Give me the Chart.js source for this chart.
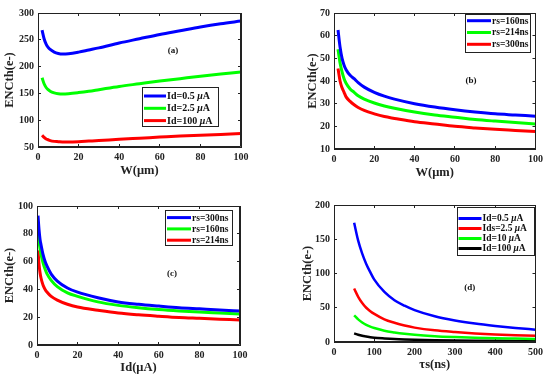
<!DOCTYPE html>
<html>
<head>
<meta charset="utf-8">
<script src="https://cdn.jsdelivr.net/npm/chart.js@4.4.1/dist/chart.umd.min.js"></script>
<style>
  html, body { margin: 0; padding: 0; background: #fff; }
  #wrap { position: relative; width: 550px; height: 378px; overflow: hidden; background: #fff; }
  canvas { position: absolute; }
</style>
</head>
<body>
<div id="wrap">
  <canvas id="ca" width="275" height="190" style="left:0;top:0"></canvas>
  <canvas id="cb" width="275" height="190" style="left:275px;top:0"></canvas>
  <canvas id="cc" width="275" height="188" style="left:0;top:190px"></canvas>
  <canvas id="cd" width="275" height="188" style="left:275px;top:190px"></canvas>
</div>
<script>
// ---- data ----
const wA = [2, 3, 4, 5, 6, 8, 10, 12, 15, 20, 25, 30, 40, 50, 60, 70, 80, 90, 100];
const encA_id05 = [268, 252, 242, 236, 232, 227, 224.5, 223.5, 224, 227, 231, 235, 244, 252, 260, 267, 274, 280, 285];
const encA_id25 = [179, 168, 161, 157, 154, 151, 149.5, 149, 149.5, 151.5, 154, 157, 163, 168, 173, 177.5, 182, 186, 190];
const encA_id100 = [72, 68, 65, 63.5, 62, 60.5, 60, 59.5, 59.5, 60, 61, 62, 64.5, 66.5, 68.5, 70.5, 72, 73.5, 75];

const wB = [2, 3, 4, 5, 6, 8, 10, 12, 15, 20, 25, 30, 40, 50, 60, 70, 80, 90, 100];
const encB_rs160 = [62.5, 55, 50, 47, 45, 42.5, 41, 39.3, 37.3, 35, 33.3, 32, 30, 28.5, 27.3, 26.3, 25.5, 25, 24.5];
const encB_rs214 = [54, 48, 44, 41, 39, 36.5, 35, 33.5, 32, 30.3, 29, 28, 26.3, 25, 24, 23, 22.3, 21.7, 21];
const encB_rs300 = [45.5, 40, 37, 35, 33, 31, 29.5, 28.3, 27, 25.5, 24.3, 23.5, 22, 21, 20, 19.3, 18.7, 18.2, 17.7];

const idC = [0.5, 1, 1.5, 2, 3, 4, 5, 7, 10, 15, 20, 30, 40, 50, 60, 70, 80, 90, 100];
const encC_rs300 = [93, 83, 76, 72, 65, 60, 56.5, 51, 46, 41, 38, 34, 31, 29.3, 28, 26.8, 26, 25.2, 24.5];
const encC_rs160 = [84, 75, 69, 65, 59, 54.5, 51, 46.5, 42, 37.5, 35, 31, 28.5, 26.8, 25.5, 24.5, 23.7, 23, 22.3];
const encC_rs214 = [68, 58, 52, 48, 43, 40, 38, 35, 32.3, 29.3, 27.3, 25, 23, 21.7, 20.7, 19.8, 19.2, 18.6, 18];

const tsD = [50, 60, 70, 80, 90, 100, 125, 150, 175, 200, 250, 300, 350, 400, 450, 500];
const encD_id05 = [174, 148, 129, 114, 102, 91, 73, 61, 53, 46.5, 37.5, 31.5, 27, 23.5, 20.5, 18];
const encD_id25 = [78, 66, 57, 50, 45, 41, 33, 28, 24, 21, 17, 14.5, 12.5, 11, 10, 9];
const encD_id10 = [39, 33, 28.5, 25, 22.5, 20.5, 16.5, 14, 12, 10.5, 8.5, 7.2, 6.2, 5.5, 5, 4.5];
const encD_id100 = [12.5, 10.5, 9, 8, 7, 6.3, 5.2, 4.3, 3.7, 3.3, 2.7, 2.3, 2, 1.8, 1.6, 1.5];

const FONT = "'Liberation Serif', 'Times New Roman', serif";
const INK = "#222222";

// box outline (backup for the scale borders), boxed legend and panel tag
const panelExtras = {
  id: "panelExtras",
  afterDraw(chart, args, opts) {
    const ctx = chart.ctx;
    const a = chart.chartArea;
    const sx = chart.scales.x, sy = chart.scales.y;
    ctx.save();
    ctx.strokeStyle = INK;
    ctx.lineWidth = 1;
    const l = Math.round(a.left) + 0.5, r = Math.round(a.right) - 0.5;
    const t = Math.round(a.top) + 0.5, b = Math.round(a.bottom) - 0.5;
    ctx.beginPath();
    ctx.moveTo(l, t); ctx.lineTo(r, t); ctx.lineTo(r, b); ctx.lineTo(l, b); ctx.closePath();
    ctx.stroke();
    ctx.getImageData(0, 0, 1, 1);

    const tag = opts.tag;
    ctx.fillStyle = "#111";
    ctx.font = "bold 9px " + FONT;
    ctx.textAlign = "center";
    ctx.textBaseline = "middle";
    ctx.fillText(tag.text, sx.getPixelForValue(tag.x), sy.getPixelForValue(tag.y));

    const L = opts.legend;
    ctx.fillStyle = "#fff";
    ctx.fillRect(L.x, L.y, L.w, L.h);
    ctx.strokeStyle = INK;
    ctx.lineWidth = 1;
    ctx.strokeRect(L.x + 0.5, L.y + 0.5, L.w, L.h);
    ctx.textAlign = "left";
    chart.data.datasets.forEach((ds, i) => {
      const y = L.y + L.first + i * L.rowH;
      ctx.strokeStyle = ds.borderColor;
      ctx.lineWidth = 3;
      ctx.beginPath();
      ctx.moveTo(L.x + L.lineX, y);
      ctx.lineTo(L.x + L.lineX + L.lineLen, y);
      ctx.stroke();
      let x = L.x + L.textX;
      ctx.fillStyle = "#111";
      ds.label.split(/(μ)/).forEach(part => {
        if (!part) return;
        ctx.font = (part === "μ" ? "italic bold " : "bold ") + L.font + "px " + FONT;
        ctx.fillText(part, x, y + 0.5);
        x += ctx.measureText(part).width;
      });
    });
    ctx.restore();
    ctx.getImageData(0, 0, 1, 1);
  }
};

function pts(xs, ys) {
  return xs.map((x, i) => ({ x, y: ys[i] }));
}

// inward tick marks, no grid inside the plot
const tickGrid = { display: true, drawOnChartArea: false, drawTicks: true, tickLength: -3, color: INK, lineWidth: 1 };
const frameBorder = { display: true, color: INK, width: 1 };
const tickFont = { family: FONT, size: 10, weight: "bold" };
const titleFont = { family: FONT, size: 12.5, weight: "bold" };

function makeChart(id, c) {
  const canvas = document.getElementById(id);
  // software-backed 2d context, asked for before Chart.js grabs it
  canvas.getContext("2d", { willReadFrequently: true });
  return new Chart(canvas, {
    type: "line",
    data: {
      datasets: c.series.map(s => ({
        label: s.label,
        data: pts(c.xs, s.ys),
        borderColor: s.color,
        borderWidth: c.lw,
        pointRadius: 0,
        cubicInterpolationMode: "monotone",
        fill: false,
        xAxisID: "x",
        yAxisID: "y"
      }))
    },
    options: {
      responsive: false,
      animation: false,
      devicePixelRatio: 1,
      layout: { padding: { left: 0, bottom: 0, top: c.pad.top, right: c.pad.right } },
      plugins: {
        legend: { display: false },
        tooltip: { enabled: false },
        panelExtras: { legend: c.legend, tag: c.tag }
      },
      scales: {
        x: {
          type: "linear", position: "bottom",
          min: c.x.min, max: c.x.max,
          grid: tickGrid,
          border: frameBorder,
          ticks: { stepSize: c.x.step, padding: 7, maxRotation: 0, color: INK, font: tickFont },
          title: { display: true, text: c.x.title, color: INK, padding: { top: 0, bottom: c.x.titlePad }, font: titleFont },
          afterFit: s => { s.height = c.pad.xH; }
        },
        x2: {
          type: "linear", position: "top",
          min: c.x.min, max: c.x.max,
          grid: tickGrid,
          border: frameBorder,
          ticks: { stepSize: c.x.step, display: false },
          afterFit: s => { s.height = 0; }
        },
        y: {
          type: "linear", position: "left",
          min: c.y.min, max: c.y.max,
          grid: tickGrid,
          border: frameBorder,
          ticks: { stepSize: c.y.step, padding: 7, color: INK, font: tickFont },
          title: { display: true, text: "ENCth(e-)", color: INK, padding: { top: c.y.titlePad, bottom: 0 }, font: titleFont },
          afterFit: s => { s.width = c.pad.yW; }
        },
        y2: {
          type: "linear", position: "right",
          min: c.y.min, max: c.y.max,
          grid: tickGrid,
          border: frameBorder,
          ticks: { stepSize: c.y.step, display: false },
          afterFit: s => { s.width = 0; }
        }
      }
    },
    plugins: [panelExtras]
  });
}

makeChart("ca", {
  xs: wA, lw: 3,
  series: [
    { label: "Id=0.5 μA", ys: encA_id05, color: "#0000ff" },
    { label: "Id=2.5 μA", ys: encA_id25, color: "#00ff00" },
    { label: "Id=100 μA", ys: encA_id100, color: "#ff0000" }
  ],
  x: { min: 0, max: 100, step: 20, title: "W(μm)", titlePad: 12 },
  y: { min: 50, max: 300, step: 50, titlePad: 2 },
  pad: { top: 13, right: 34, yW: 38, xH: 43 },
  legend: { x: 142, y: 87, w: 76, h: 39, first: 9, rowH: 12.3, lineX: 2, lineLen: 22, textX: 25, font: 10 },
  tag: { text: "(a)", x: 66.5, y: 230 }
});

makeChart("cb", {
  xs: wB, lw: 3,
  series: [
    { label: "rs=160ns", ys: encB_rs160, color: "#0000ff" },
    { label: "rs=214ns", ys: encB_rs214, color: "#00ff00" },
    { label: "rs=300ns", ys: encB_rs300, color: "#ff0000" }
  ],
  x: { min: 0, max: 100, step: 20, title: "W(μm)", titlePad: 10 },
  y: { min: 10, max: 70, step: 10, titlePad: 30 },
  pad: { top: 7, right: 10, yW: 59, xH: 41 },
  legend: { x: 190, y: 14, w: 65, h: 38, first: 6.7, rowH: 11.8, lineX: 2, lineLen: 24, textX: 27, font: 9.5 },
  tag: { text: "(b)", x: 68, y: 40 }
});

makeChart("cc", {
  xs: idC, lw: 3,
  series: [
    { label: "rs=300ns", ys: encC_rs300, color: "#0000ff" },
    { label: "rs=160ns", ys: encC_rs160, color: "#00ff00" },
    { label: "rs=214ns", ys: encC_rs214, color: "#ff0000" }
  ],
  x: { min: 0, max: 100, step: 20, title: "Id(μA)", titlePad: 3 },
  y: { min: 0, max: 100, step: 20, titlePad: 2 },
  pad: { top: 16, right: 35, yW: 37, xH: 33 },
  legend: { x: 165, y: 20, w: 67, h: 35, first: 7.6, rowH: 11.3, lineX: 2, lineLen: 24, textX: 27, font: 9.5 },
  tag: { text: "(c)", x: 66.5, y: 51 }
});

makeChart("cd", {
  xs: tsD, lw: 2.5,
  series: [
    { label: "Id=0.5 μA", ys: encD_id05, color: "#0000ff" },
    { label: "Ids=2.5 μA", ys: encD_id25, color: "#ff0000" },
    { label: "Id=10 μA", ys: encD_id10, color: "#00ff00" },
    { label: "Id=100 μA", ys: encD_id100, color: "#000000" }
  ],
  x: { min: 0, max: 500, step: 100, title: "τs(ns)", titlePad: 6 },
  y: { min: 0, max: 200, step: 50, titlePad: 25 },
  pad: { top: 15, right: 14, yW: 59, xH: 36 },
  legend: { x: 182, y: 17, w: 77, h: 48, first: 11.5, rowH: 10, lineX: 1.5, lineLen: 23, textX: 25.5, font: 9.5 },
  tag: { text: "(d)", x: 337, y: 80 }
});
</script>
</body>
</html>
